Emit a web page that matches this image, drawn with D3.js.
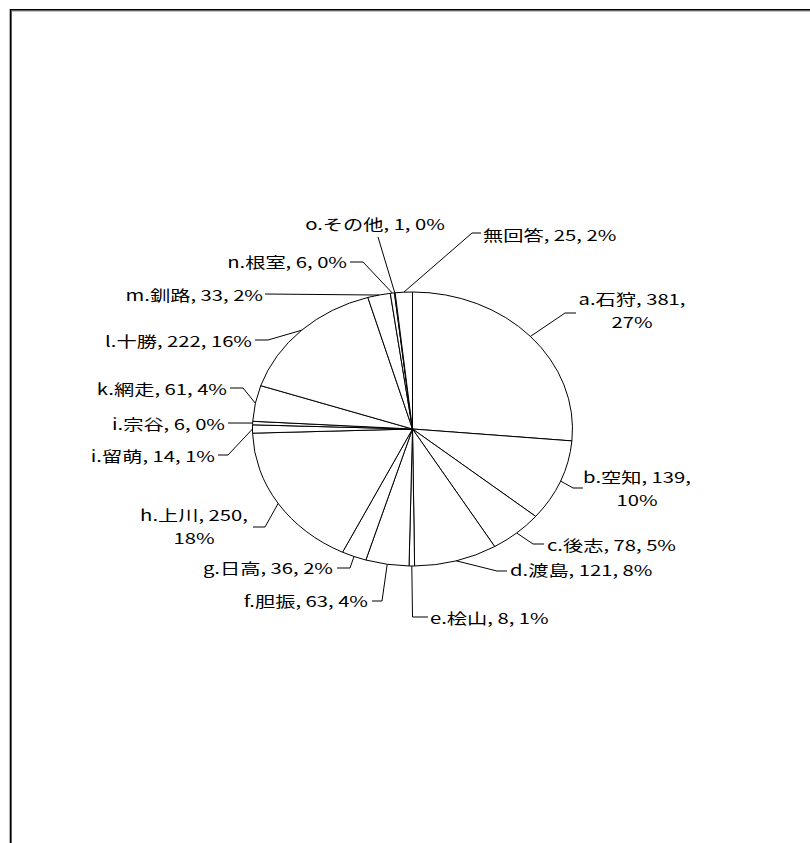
<!DOCTYPE html>
<html>
<head>
<meta charset="utf-8">
<script src="https://cdn.jsdelivr.net/npm/d3@7/dist/d3.min.js"></script>
<style>
  html, body { margin: 0; padding: 0; background: #fff; }
  svg { display: block; }
  text { font-family: "Noto Sans CJK JP", sans-serif; font-size: 15px; fill: #000; }
</style>
</head>
<body>
<svg id="chart" width="810" height="843"></svg>
<script>
// Regions (subprefectures) and response counts
const regions = ["a.石狩", "b.空知", "c.後志", "d.渡島", "e.桧山", "f.胆振", "g.日高", "h.上川",
                 "i.留萌", "i.宗谷", "k.網走", "l.十勝", "m.釧路", "n.根室", "o.その他", "無回答"];
const counts  = [381, 139, 78, 121, 8, 63, 36, 250, 14, 6, 61, 222, 33, 6, 1, 25];
const shares  = [27, 10, 5, 8, 1, 4, 2, 18, 1, 0, 4, 16, 2, 0, 0, 2];

// Label placement: text anchor and the leader's bend points (text side first)
const labelLayout = [
  { x: 632, y: 298, anchor: "middle", wrap: true, lead: [[576, 313], [565, 313]] },
  { x: 637, y: 476, anchor: "middle", wrap: true, lead: [[583, 488], [573, 488]] },
  { x: 547, y: 544, anchor: "start", lead: [[544, 544], [533, 544]] },
  { x: 510, y: 569, anchor: "start", lead: [[507, 571], [497, 571]] },
  { x: 430, y: 617, anchor: "start", lead: [[428, 617], [412.5, 617]] },
  { x: 368, y: 600, anchor: "end", lead: [[372, 601], [382, 601]] },
  { x: 333, y: 567, anchor: "end", lead: [[337, 568], [350, 568]] },
  { x: 194, y: 514, anchor: "middle", wrap: true, lead: [[253, 527], [265, 527]] },
  { x: 215, y: 455, anchor: "end", lead: [[218, 455], [228, 455]] },
  { x: 225, y: 423, anchor: "end", lead: [[228, 423]] },
  { x: 227, y: 388, anchor: "end", lead: [[230, 388], [243, 388]] },
  { x: 252, y: 340, anchor: "end", lead: [[255, 340], [268, 340]] },
  { x: 263, y: 294, anchor: "end", lead: [[265, 294]] },
  { x: 347, y: 261, anchor: "end", lead: [[350, 262], [363, 262]] },
  { x: 375, y: 223, anchor: "middle", lead: [[378, 237]] },
  { x: 483, y: 234, anchor: "start", lead: [[481, 233], [472, 233]] }
];

const svg = d3.select("#chart");
const cx = 412.5, cy = 429, rx = 160, ry = 137;
const sx = 1.35; // horizontal stretch of the label type

// Outer frame (top and left edges visible in the window)
svg.append("path").attr("d", "M11.5,843 V11 H810").attr("fill", "none")
  .attr("stroke", "#888").attr("stroke-width", 1);
svg.append("path").attr("d", "M10.5,843 V9.8 H810").attr("fill", "none")
  .attr("stroke", "#000").attr("stroke-width", 1.6);

const data = regions.map((name, i) => ({ name, count: counts[i], share: shares[i], layout: labelLayout[i] }));

const pie = d3.pie().value(d => d.count).sort(null).startAngle(0).endAngle(2 * Math.PI);
const arcs = pie(data);
const arc = d3.arc().innerRadius(0).outerRadius(rx);

// Pie squashed into an ellipse
const g = svg.append("g").attr("transform", `translate(${cx},${cy}) scale(1,${ry / rx})`);
g.selectAll("path.slice").data(arcs).join("path")
  .attr("class", "slice")
  .attr("d", arc)
  .attr("fill", "#fff")
  .attr("stroke", "#000")
  .attr("stroke-width", 1)
  .attr("vector-effect", "non-scaling-stroke");

// Point on the ellipse at the middle of each slice
function midPoint(a) {
  const t = (a.startAngle + a.endAngle) / 2;
  return [cx + rx * Math.sin(t), cy - ry * Math.cos(t)];
}

// Leader lines
const line = d3.line();
svg.selectAll("path.leader").data(arcs).join("path")
  .attr("class", "leader")
  .attr("d", a => line([...a.data.layout.lead, midPoint(a)]))
  .attr("fill", "none")
  .attr("stroke", "#000")
  .attr("stroke-width", 1);

// Data labels: name, count, percentage
const labels = svg.selectAll("g.label").data(data).join("g")
  .attr("class", "label")
  .attr("transform", d => `translate(${d.layout.x},${d.layout.y}) scale(${sx},1)`);

labels.each(function (d) {
  const sel = d3.select(this);
  const lines = d.layout.wrap
    ? [`${d.name}, ${d.count},`, `${d.share}%`]
    : [`${d.name}, ${d.count}, ${d.share}%`];
  lines.forEach((t, k) => {
    sel.append("text")
      .attr("x", 0)
      .attr("y", k * 23)
      .attr("dominant-baseline", "central")
      .attr("text-anchor", d.layout.anchor)
      .text(t);
  });
});
</script>
</body>
</html>
